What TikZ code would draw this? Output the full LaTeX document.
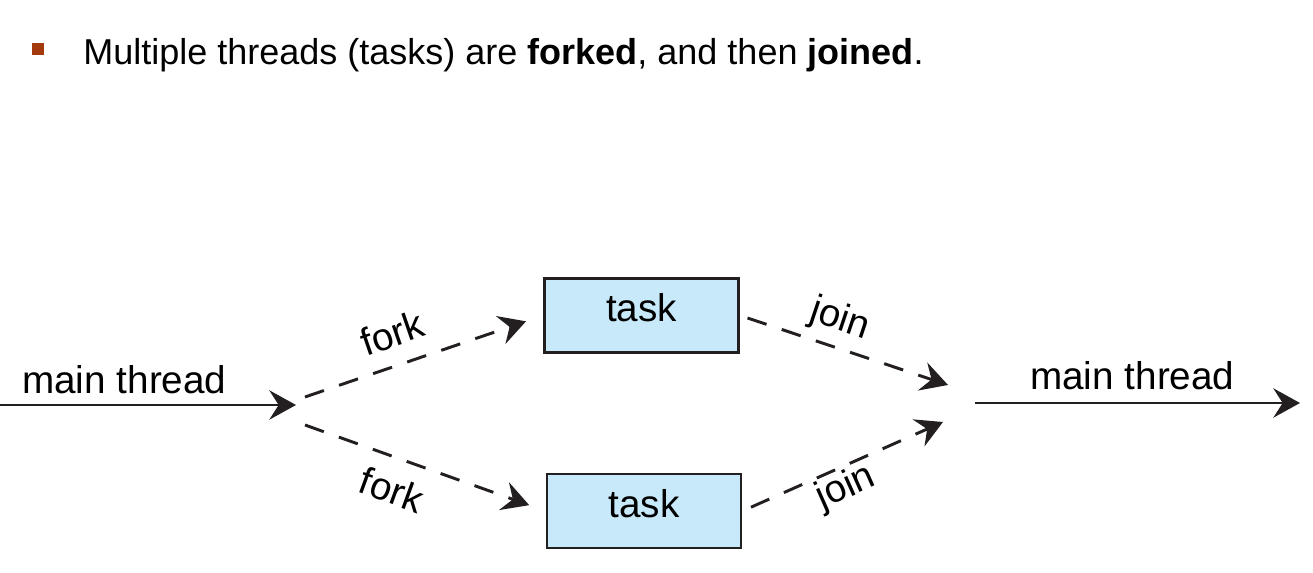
\documentclass[tikz,border=0pt]{standalone}
\usepackage{fontspec}
\setmainfont{Liberation Sans}
\usetikzlibrary{arrows.meta}
\definecolor{taskblue}{RGB}{200,233,249}
\definecolor{bulletred}{RGB}{163,58,14}
\definecolor{inkblack}{RGB}{35,31,32}
\tikzset{
    taskbox/.style={draw=inkblack, fill=taskblue, line width=2.2pt,
        minimum width=145.5pt, minimum height=55.5pt, inner sep=0pt,
        text depth=11.5pt, font=\fontsize{29}{34}\selectfont},
    lbl/.style={font=\fontsize{29}{34}\selectfont, inner sep=0pt},
    mainarrow/.style={draw=inkblack, line width=2.2pt,
        -{Stealth[length=20pt,width=22pt,inset=7pt]}},
    dashline/.style={mainarrow, dash pattern=on 15pt off 12pt}
}
\begin{document}
\begin{tikzpicture}[x=0.75pt, y=-0.75pt]
    \useasboundingbox (0,0) rectangle (1313,573);

    % heading with bullet
    \node[fill=bulletred, minimum size=9pt, inner sep=0pt] (bullet) at (38,49) {};
    \node[anchor=base west, inner sep=0pt, font=\fontsize{27}{32}\selectfont] (title) at (83,65)
        {Multiple threads (tasks) are \textbf{forked}, and then \textbf{joined}.};

    % the two tasks
    \node[taskbox] (top) at (641.5,315.5) {task};
    \node[taskbox] (bot) at (644,511) {task};

    % fork and join points
    \coordinate (in) at (0,405);
    \coordinate (fork) at (296,405);
    \coordinate (forkA) at (305,397);
    \coordinate (forkB) at (305,425);
    \coordinate (joinA) at (948,385);
    \coordinate (joinB) at (943,422);
    \coordinate (join) at (975,403);
    \coordinate (out) at (1300,403);

    % main thread in and out
    \node[lbl, anchor=base west] (mainin) at (22,393) {main thread};
    \node[lbl, anchor=base west] (mainout) at (1030,389) {main thread};
    \draw[mainarrow] (in) -- (fork);
    \draw[mainarrow] (join) -- (out);

    % forks
    \draw[dashline, shorten >=13.5pt] (forkA) -- (top.west);
    \draw[dashline, shorten >=13pt] (forkB) -- (bot.west);
    \node[lbl, rotate=19] (fork1) at (392,333) {fork};
    \node[lbl, rotate=-20] (fork2) at (392,490) {fork};

    % joins
    \draw[dashline, shorten <=6pt] (top.east) -- (joinA);
    \draw[dashline, shorten <=7pt] (bot.east) -- (joinB);
    \node[lbl, rotate=-18.5] (join1) at (840,320) {join};
    \node[lbl, rotate=24] (join2) at (846,488) {join};
\end{tikzpicture}
\end{document}
